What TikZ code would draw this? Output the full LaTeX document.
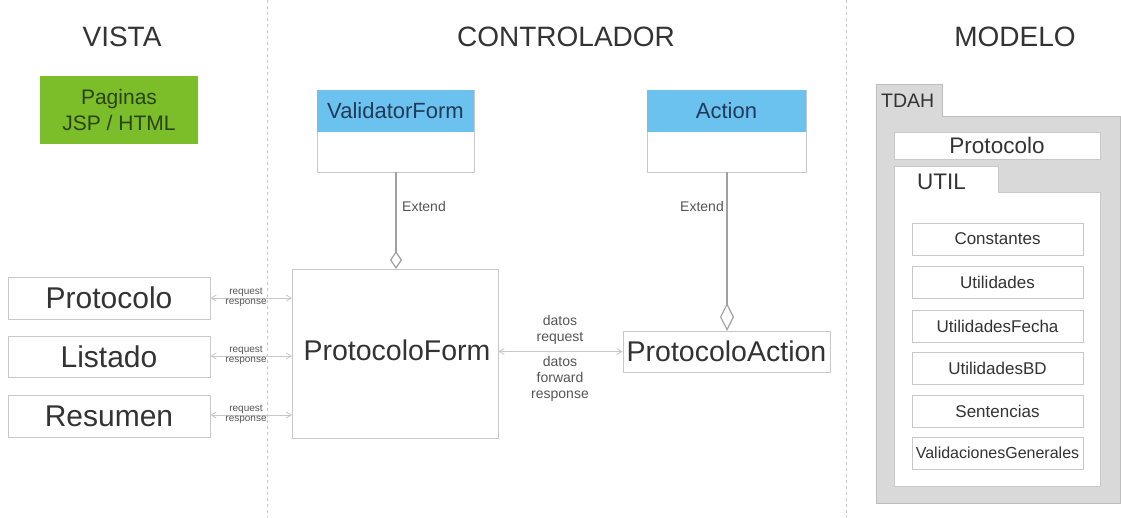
\documentclass[tikz,border=0pt]{standalone}
\usepackage{fontspec}
\setmainfont{Liberation Sans}
\usetikzlibrary{arrows.meta}
\definecolor{bordergray}{HTML}{C8C8C8}
\definecolor{txtgray}{HTML}{333333}
\definecolor{lightgray2}{HTML}{555555}
\definecolor{greenbox}{HTML}{7CBD2A}
\definecolor{greentxt}{HTML}{2A4410}
\definecolor{bluehead}{HTML}{6CC2EE}
\definecolor{bluetxt}{HTML}{1F3B57}
\definecolor{pkgfill}{HTML}{D9D9D9}
\definecolor{pkgborder}{HTML}{BDBDBD}
\definecolor{linegray}{HTML}{A0A0A0}
\tikzset{
  fs/.style={font=\fontsize{#1}{#1}\selectfont},
  title/.style={fs=28, text=txtgray, inner sep=0},
  plainbox/.style={draw=bordergray, line width=1pt, fill=white, inner sep=0, text=txtgray},
  smalllbl/.style={text=lightgray2, align=center, inner sep=0, font=\fontsize{10}{10.5}\selectfont},
  midlbl/.style={text=lightgray2, align=center, inner sep=0, font=\fontsize{14}{16}\selectfont},
  itembox/.style={draw=bordergray, line width=0.8pt, fill=white, inner sep=0, text=txtgray, minimum width=171, minimum height=32},
  reqarrow/.style={draw=bordergray, line width=0.8pt, {Straight Barb[length=5pt,width=6pt]}-{Straight Barb[length=5pt,width=6pt]}},
  extline/.style={draw=linegray, line width=1.6pt},
  sep/.style={draw=bordergray, line width=0.8pt, dash pattern=on 3pt off 3pt}
}
\begin{document}
\begin{tikzpicture}[x=1pt,y=-1pt]
\useasboundingbox (0,0) rectangle (1121,517);
\fill[white] (0,0) rectangle (1121,517);

% separators
\coordinate (s1t) at (267,0); \coordinate (s1b) at (267,517);
\coordinate (s2t) at (846,0); \coordinate (s2b) at (846,517);
\draw[sep] (s1t) -- (s1b);
\draw[sep] (s2t) -- (s2b);

% titles
\node[title] (tv) at (122,37) {VISTA};
\node[title] (tc) at (566,37) {CONTROLADOR};
\node[title] (tm) at (1015,37) {MODELO};

% green box
\node[fill=greenbox, text=greentxt, minimum width=158, minimum height=68, inner sep=0, align=center, font=\fontsize{21}{26}\selectfont] (pag) at (119,110) {Paginas\\JSP / HTML};

% ValidatorForm class
\node[draw=bordergray, line width=1pt, fill=white, minimum width=157, minimum height=82, inner sep=0] (vf) at (395.5,131) {};
\node[fill=bluehead, minimum width=157, minimum height=42, inner sep=0, text=bluetxt, fs=22] (vfh) at (395.5,111) {ValidatorForm};
% Action class
\node[draw=bordergray, line width=1pt, fill=white, minimum width=159, minimum height=82, inner sep=0] (ac) at (726.5,131) {};
\node[fill=bluehead, minimum width=159, minimum height=42, inner sep=0, text=bluetxt, fs=22] (ach) at (726.5,111) {Action};

% ProtocoloForm
\node[plainbox, minimum width=206, minimum height=169, fs=28.5] (pf) at (395,353.5) {};
\node[text=txtgray, fs=28.5, inner sep=0] (pft) at (397,350) {ProtocoloForm};
% ProtocoloAction
\node[plainbox, minimum width=207, minimum height=41, fs=28.5] (pa) at (726.5,351.5) {};
\node[text=txtgray, fs=28.5, inner sep=0] (pat) at (726.5,351) {ProtocoloAction};

% Extend connectors
\coordinate (vfb) at (396,172);
\coordinate (pfd) at (396,269);
\draw[extline, -{Diamond[open, length=18pt, width=12pt, line width=1.2pt, fill=white]}] (vfb) -- (pfd);
\node[fs=14, text=lightgray2, inner sep=0, anchor=west] (ext1) at (402,206) {Extend};
\coordinate (acb) at (727,172);
\coordinate (pad) at (727,331);
\draw[extline, -{Diamond[open, length=28pt, width=14pt, line width=1.2pt, fill=white]}] (acb) -- (pad);
\node[fs=14, text=lightgray2, inner sep=0, anchor=east] (ext2) at (724,206) {Extend};

% left boxes
\node[plainbox, minimum width=202, minimum height=42, fs=30] (lp) at (109,298) {Protocolo};
\node[plainbox, minimum width=202, minimum height=41, fs=30] (ll) at (109,356.5) {Listado};
\node[plainbox, minimum width=202, minimum height=42, fs=30] (lr) at (109,416) {Resumen};

\coordinate (a1) at (292,298);
\coordinate (a2) at (292,356);
\coordinate (a3) at (292,415);
\draw[reqarrow] (lp.east |- a1) -- (a1);
\draw[reqarrow] (ll.east |- a2) -- (a2);
\draw[reqarrow] (lr.east |- a3) -- (a3);
\node[smalllbl] (r1) at (246,297.5) {request\\response};
\node[smalllbl] (r2) at (246,355.5) {request\\response};
\node[smalllbl] (r3) at (246,414.5) {request\\response};

% Form <-> Action
\draw[reqarrow] (pf.east |- pa.west) -- (pa.west);
\node[midlbl, anchor=south] (d1) at (560,345) {datos\\request};
\node[midlbl, anchor=north] (d2) at (560,356) {datos\\forward\\response};

% MODELO package TDAH
\draw[pkgborder, fill=pkgfill, line width=0.8pt] (876,84) -- (942,84) -- (942,116) -- (1120,116) -- (1120,503) -- (876,503) -- cycle;
\node[fs=19.5, text=txtgray, inner sep=0, anchor=west] (tdah) at (881,101) {TDAH};
\node[draw=bordergray, line width=0.8pt, fill=white, minimum width=206, minimum height=27, inner sep=0, fs=22.5, text=txtgray] (mp) at (997,145.5) {Protocolo};
% UTIL package
\draw[bordergray, fill=white, line width=0.8pt] (894,166) -- (998,166) -- (998,192) -- (1100,192) -- (1100,486) -- (894,486) -- cycle;
\node[fs=22.5, text=txtgray, inner sep=0, anchor=west] (util) at (917,182) {UTIL};

\node[itembox, fs=17] (i1) at (997.5,239) {Constantes};
\node[itembox, fs=17] (i2) at (997.5,282) {Utilidades};
\node[itembox, fs=17] (i3) at (997.5,326) {UtilidadesFecha};
\node[itembox, fs=17] (i4) at (997.5,368) {UtilidadesBD};
\node[itembox, fs=17] (i5) at (997.5,411) {Sentencias};
\node[itembox, fs=16] (i6) at (997.5,453) {ValidacionesGenerales};
\end{tikzpicture}
\end{document}
